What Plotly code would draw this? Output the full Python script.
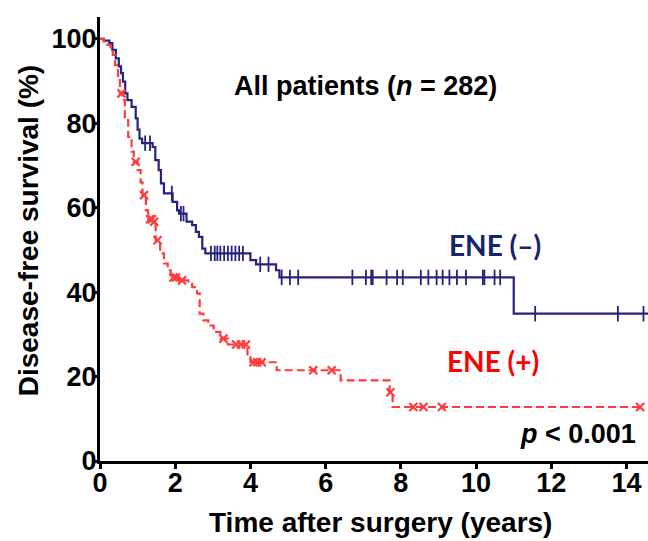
import numpy as np
import plotly.graph_objects as go

# ---------------- data ----------------
# ENE (-) : Kaplan-Meier step points (time in years, survival % after the step)
neg_time = [0, 0.10, 0.25, 0.33, 0.42, 0.50, 0.56, 0.61, 0.67, 0.73, 0.84, 0.95, 1.00,
            1.05, 1.12, 1.40, 1.47, 1.56, 1.62, 1.70, 1.93, 2.05, 2.10, 2.30, 2.45,
            2.55, 2.63, 2.72, 2.80, 4.00, 4.15, 4.68, 4.77, 11.0]
neg_surv = [100, 99.6, 99.0, 97.4, 95.4, 93.5, 91.9, 89.9, 87.1, 85.5, 83.9, 81.2, 78.5,
            76.4, 75.3, 74.4, 71.3, 68.9, 65.8, 63.4, 61.4, 59.4, 58.6, 56.7, 55.9,
            54.3, 53.1, 50.3, 49.2, 47.6, 46.6, 45.2, 43.5, 34.9]
neg_censor = [1.20, 1.33, 1.91, 2.15, 2.22, 2.95, 3.05, 3.12, 3.20, 3.30, 3.40, 3.50,
              3.60, 3.70, 3.80, 4.26, 4.48, 4.83, 5.05, 5.27, 6.71, 7.07, 7.21, 7.25,
              7.62, 7.90, 8.05, 8.53, 8.73, 8.95, 9.11, 9.29, 9.49, 9.73, 10.18, 10.22,
              10.49, 10.64, 11.57, 13.77, 14.45]
neg_end = 14.57

# ENE (+)
pos_time = [0, 0.10, 0.20, 0.28, 0.34, 0.40, 0.48, 0.53, 0.60, 0.66, 0.75, 0.84, 0.90,
            1.00, 1.08, 1.13, 1.22, 1.28, 1.40, 1.48, 1.60, 1.70, 1.80, 1.88, 2.10,
            2.35, 2.45, 2.58, 2.65, 2.75, 2.88, 3.02, 3.20, 3.40, 3.92, 4.00, 4.70,
            6.40, 7.70, 7.78]
pos_surv = [100, 99.4, 98.6, 97.4, 96.2, 93.8, 90.7, 87.1, 85.5, 80.8, 76.8, 73.3, 70.9,
            68.9, 66.0, 63.0, 59.4, 57.3, 56.7, 52.3, 49.2, 46.8, 45.2, 43.5, 42.8,
            42.0, 41.2, 39.7, 34.9, 33.3, 32.1, 30.6, 29.0, 27.6, 24.6, 23.4, 21.5,
            19.1, 16.3, 12.8]
pos_censor = [0.57, 0.95, 1.17, 1.33, 1.38, 1.44, 1.53, 1.95, 2.02, 2.18, 3.28, 3.62,
              3.75, 3.88, 4.08, 4.18, 4.30, 5.67, 6.16, 7.72, 8.33, 8.60, 9.09, 14.36]
pos_end = 14.36

x_ticks = [0, 2, 4, 6, 8, 10, 12, 14]
y_ticks = [0, 20, 40, 60, 80, 100]

BLUE = "#24247e"
RED = "#ff3b3b"


def step_value(times, survs, t):
    idx = np.searchsorted(np.asarray(times), np.asarray(t), side="right") - 1
    return np.asarray(survs)[idx]


fig = go.Figure()

# ENE (-) curve
fig.add_trace(go.Scatter(
    x=neg_time + [neg_end], y=neg_surv + [neg_surv[-1]],
    mode="lines", line=dict(color=BLUE, width=2.2, shape="hv"),
    showlegend=False, hoverinfo="skip"))
fig.add_trace(go.Scatter(
    x=neg_censor, y=step_value(neg_time, neg_surv, neg_censor),
    mode="markers",
    marker=dict(symbol="line-ns", size=11, line=dict(color=BLUE, width=1.8)),
    showlegend=False, hoverinfo="skip"))

# ENE (+) curve
fig.add_trace(go.Scatter(
    x=pos_time + [pos_end], y=pos_surv + [pos_surv[-1]],
    mode="lines", line=dict(color=RED, width=2.2, shape="hv", dash="8px,4px"),
    showlegend=False, hoverinfo="skip"))
fig.add_trace(go.Scatter(
    x=pos_censor, y=step_value(pos_time, pos_surv, pos_censor),
    mode="markers",
    marker=dict(symbol="x-thin", size=8, line=dict(color=RED, width=2.2)),
    showlegend=False, hoverinfo="skip"))

ARIAL = "Liberation Sans, Arial, sans-serif"
tickfont = dict(family=ARIAL, size=27, color="black", weight="bold")
titlefont = dict(family=ARIAL, size=28, color="black", weight="bold")

fig.update_layout(
    width=648, height=541,
    margin=dict(l=100, r=0, t=17, b=80, autoexpand=False),
    plot_bgcolor="white", paper_bgcolor="white",
    xaxis=dict(range=[0, 14.57], tickvals=x_ticks, ticks="outside", ticklen=5,
               tickwidth=2.5, tickcolor="black", showline=True, linecolor="black",
               linewidth=3, showgrid=False, zeroline=False, tickfont=tickfont,
               ticklabelstandoff=-9, automargin=False),
    yaxis=dict(range=[0, 105.2], tickvals=y_ticks, ticks="outside", ticklen=5,
               tickwidth=2.5, tickcolor="black", showline=True, linecolor="black",
               linewidth=3, showgrid=False, zeroline=False, tickfont=tickfont,
               ticklabelstandoff=-10, automargin=False),
)

annotations = [
    dict(text="Time after surgery (years)", x=0.511, y=-0.139, xref="paper", yref="paper",
         showarrow=False, font=titlefont, xanchor="center", yanchor="middle"),
    dict(text="Disease-free survival (%)", x=-0.131, y=0.52, xref="paper", yref="paper",
         showarrow=False, font=titlefont, textangle=-90, xanchor="center", yanchor="middle"),
    dict(text="All patients (<i>n</i> = 282)", x=7.05, y=88.8, xref="x", yref="y",
         showarrow=False, xanchor="center", yanchor="middle",
         font=dict(family=ARIAL, size=27, color="black", weight="bold")),
    dict(text="ENE (–)", x=10.5, y=51.1, xref="x", yref="y", showarrow=False,
         xanchor="center", yanchor="middle",
         font=dict(family="Lato, sans-serif", size=28, color="#13256b", weight="bold")),
    dict(text="ENE (+)", x=10.45, y=23.8, xref="x", yref="y", showarrow=False,
         xanchor="center", yanchor="middle",
         font=dict(family="Lato, sans-serif", size=28, color="#ff0000", weight="bold")),
    dict(text="<i>p</i> < 0.001", x=14.31, y=6.5, xref="x", yref="y", showarrow=False,
         xanchor="right", yanchor="middle",
         font=dict(family=ARIAL, size=27, color="black", weight="bold")),
]
fig.update_layout(annotations=annotations)

fig.write_html("out.html", config={"displayModeBar": False},
               post_script="document.body.style.margin='0px';document.body.style.overflow='hidden';")
